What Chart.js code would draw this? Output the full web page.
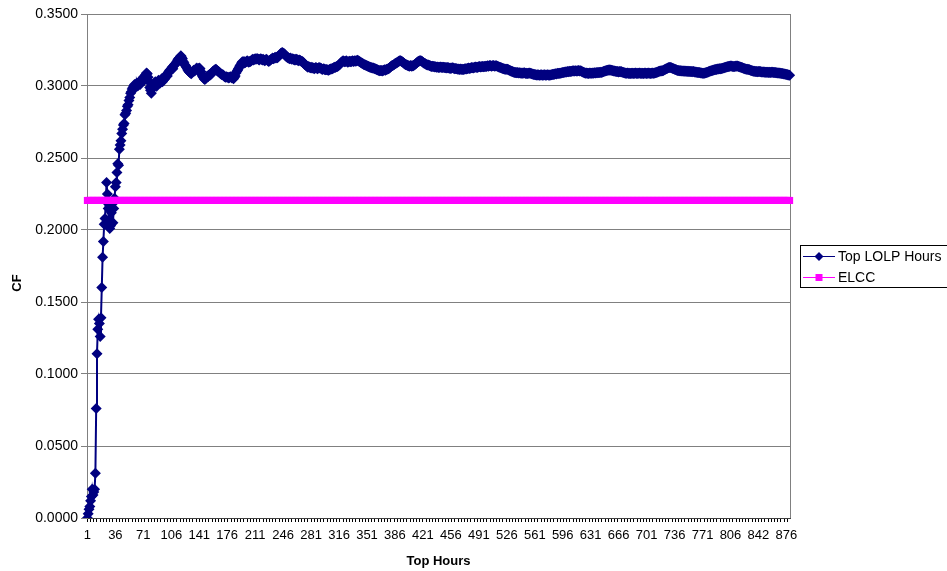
<!DOCTYPE html>
<html>
<head>
<meta charset="utf-8">
<script src="https://cdn.jsdelivr.net/npm/chart.js@4.4.0/dist/chart.umd.min.js"></script>
<style>
  body { margin: 0; background: #fff; }
  #wrap { width: 947px; height: 571px; position: relative; }
</style>
</head>
<body>
<div id="wrap"><canvas id="cfChart"></canvas></div>
<script>
// x axis: top hours 1..880, labelled every 35th category
const hours = Array.from({ length: 880 }, (_, i) => String(i + 1));
const tickLabels = ['1', '36', '71', '106', '141', '176', '211', '246', '281', '316', '351', '386', '421',
    '456', '491', '526', '561', '596', '631', '666', '701', '736', '771', '806', '842', '876'];

// CF of the top LOLP hours, in ten-thousandths
const topLolpCF = [
    0, 30, 60, 80, 120, 150, 200, 160, 180, 200,
    310, 760, 1140, 1310, 1380, 1350, 1260, 1390, 1600, 1810,
    1920, 2040, 2080, 2200, 2330, 2250, 2150, 2060, 2010, 2030,
    2120, 2180, 2050, 2150, 2220, 2300, 2330, 2400, 2460, 2450,
    2560, 2590, 2620, 2670, 2700, 2730, 2740, 2800, 2810, 2830,
    2860, 2870, 2900, 2920, 2950, 2960, 2980, 2990, 3000, 3010,
    2990, 3010, 3020, 3000, 3020, 3030, 3010, 3040, 3030, 3050,
    3060, 3040, 3070, 3080, 3090, 3085, 3060, 3030, 2990, 2970,
    2950, 2980, 3010, 3000, 3020, 3030, 3010, 3000, 3020, 3040,
    3030, 3020, 3040, 3050, 3030, 3040, 3060, 3050, 3070, 3080,
    3070, 3090, 3100, 3110, 3110, 3120, 3130, 3120, 3140, 3150,
    3150, 3160, 3170, 3180, 3190, 3195, 3200, 3210, 3200, 3190,
    3170, 3160, 3146, 3140, 3130, 3120, 3110, 3100, 3095, 3090,
    3085, 3095, 3100, 3110, 3105, 3110, 3120, 3125, 3115, 3120,
    3125, 3120, 3100, 3080, 3070, 3060, 3050, 3046, 3050, 3060,
    3070, 3065, 3075, 3080, 3076, 3085, 3090, 3100, 3105, 3110,
    3115, 3116, 3110, 3105, 3100, 3095, 3090, 3085, 3080, 3078,
    3076, 3070, 3065, 3060, 3065, 3060, 3060, 3055, 3060, 3065,
    3060, 3055, 3060, 3050, 3060, 3070, 3090, 3100, 3110, 3120,
    3130, 3140, 3150, 3160, 3169, 3165, 3170, 3160, 3165, 3170,
    3175, 3170, 3165, 3170, 3170, 3175, 3180, 3185, 3180, 3185,
    3190, 3185, 3190, 3190, 3185, 3180, 3185, 3190, 3185, 3180,
    3186, 3180, 3175, 3180, 3185, 3180, 3175, 3170, 3175, 3180,
    3185, 3190, 3195, 3190, 3195, 3200, 3195, 3200, 3197, 3205,
    3210, 3215, 3225, 3230, 3232, 3228, 3225, 3220, 3210, 3205,
    3200, 3197, 3195, 3190, 3195, 3190, 3185, 3190, 3185, 3180,
    3186, 3180, 3185, 3180, 3175, 3180, 3178, 3175, 3170, 3170,
    3165, 3160, 3150, 3145, 3140, 3136, 3130, 3135, 3130, 3128,
    3125, 3130, 3125, 3125, 3120, 3125, 3128, 3125, 3120, 3125,
    3128, 3125, 3125, 3120, 3115, 3118, 3120, 3115, 3112, 3115,
    3112, 3111, 3110, 3115, 3116, 3120, 3118, 3122, 3125, 3130,
    3128, 3132, 3135, 3136, 3140, 3145, 3150, 3160, 3165, 3170,
    3176, 3172, 3168, 3170, 3175, 3170, 3165, 3168, 3172, 3170,
    3168, 3172, 3175, 3170, 3173, 3176, 3172, 3175, 3178, 3176,
    3172, 3168, 3165, 3160, 3158, 3155, 3150, 3148, 3146, 3142,
    3140, 3138, 3135, 3132, 3130, 3128, 3126, 3125, 3125, 3122,
    3120, 3118, 3115, 3112, 3110, 3108, 3106, 3107, 3107, 3105,
    3108, 3110, 3112, 3110, 3114, 3116, 3118, 3120, 3125, 3130,
    3135, 3140, 3142, 3146, 3150, 3155, 3158, 3160, 3165, 3168,
    3172, 3175, 3176, 3172, 3168, 3165, 3160, 3155, 3150, 3148,
    3146, 3142, 3140, 3138, 3140, 3142, 3138, 3140, 3140, 3145,
    3150, 3155, 3160, 3165, 3170, 3172, 3175, 3176, 3174, 3170,
    3165, 3160, 3158, 3155, 3150, 3148, 3146, 3145, 3142, 3140,
    3138, 3136, 3137, 3136, 3135, 3132, 3134, 3130, 3132, 3130,
    3128, 3130, 3132, 3130, 3128, 3130, 3130, 3128, 3126, 3128,
    3125, 3128, 3126, 3124, 3125, 3122, 3125, 3126, 3125, 3122,
    3120, 3122, 3120, 3118, 3116, 3118, 3115, 3118, 3116, 3114,
    3116, 3115, 3118, 3120, 3118, 3120, 3122, 3125, 3122, 3124,
    3125, 3128, 3126, 3125, 3128, 3130, 3132, 3130, 3128, 3132,
    3134, 3135, 3132, 3134, 3136, 3135, 3134, 3136, 3138, 3136,
    3138, 3140, 3138, 3140, 3142, 3140, 3138, 3140, 3142, 3140,
    3138, 3140, 3140, 3138, 3135, 3132, 3130, 3128, 3126, 3124,
    3122, 3120, 3118, 3116, 3117, 3116, 3116, 3112, 3110, 3108,
    3105, 3102, 3100, 3098, 3095, 3094, 3093, 3092, 3093, 3092,
    3090, 3092, 3090, 3088, 3090, 3088, 3090, 3092, 3088, 3086,
    3088, 3086, 3088, 3090, 3088, 3088, 3085, 3083, 3082, 3080,
    3080, 3078, 3077, 3076, 3078, 3076, 3075, 3076, 3078, 3076,
    3075, 3077, 3078, 3076, 3075, 3076, 3078, 3077, 3075, 3076,
    3076, 3078, 3080, 3082, 3080, 3083, 3085, 3084, 3086, 3088,
    3087, 3088, 3088, 3090, 3092, 3094, 3093, 3096, 3098, 3097,
    3098, 3100, 3099, 3100, 3102, 3100, 3103, 3104, 3106, 3104,
    3105, 3106, 3105, 3104, 3106, 3107, 3105, 3106, 3104, 3100,
    3098, 3095, 3092, 3090, 3088, 3090, 3088, 3087, 3088, 3090,
    3088, 3089, 3090, 3088, 3090, 3092, 3091, 3092, 3093, 3092,
    3094, 3093, 3095, 3094, 3096, 3098, 3100, 3102, 3104, 3106,
    3108, 3110, 3110, 3112, 3110, 3111, 3110, 3108, 3106, 3105,
    3104, 3102, 3100, 3101, 3100, 3098, 3100, 3099, 3100, 3098,
    3096, 3094, 3092, 3090, 3088, 3088, 3090, 3088, 3087, 3088,
    3086, 3088, 3089, 3088, 3087, 3088, 3090, 3088, 3087, 3088,
    3088, 3090, 3088, 3086, 3088, 3089, 3087, 3088, 3090, 3088,
    3087, 3088, 3090, 3089, 3088, 3086, 3088, 3090, 3088, 3088,
    3090, 3092, 3094, 3096, 3098, 3100, 3102, 3104, 3105, 3106,
    3106, 3108, 3112, 3115, 3118, 3120, 3124, 3126, 3128, 3128,
    3128, 3126, 3124, 3122, 3120, 3116, 3114, 3112, 3110, 3108,
    3107, 3106, 3106, 3106, 3104, 3105, 3104, 3103, 3104, 3102,
    3102, 3103, 3101, 3102, 3100, 3101, 3100, 3099, 3100, 3100,
    3098, 3097, 3096, 3095, 3094, 3094, 3093, 3092, 3090, 3090,
    3089, 3088, 3088, 3090, 3092, 3094, 3096, 3098, 3100, 3102,
    3104, 3106, 3108, 3110, 3111, 3112, 3114, 3115, 3116, 3118,
    3118, 3120, 3119, 3120, 3122, 3124, 3125, 3126, 3128, 3130,
    3132, 3134, 3135, 3136, 3138, 3139, 3139, 3138, 3136, 3135,
    3136, 3138, 3139, 3138, 3139, 3136, 3134, 3132, 3130, 3128,
    3126, 3124, 3122, 3120, 3118, 3117, 3116, 3115, 3114, 3112,
    3110, 3108, 3106, 3104, 3103, 3102, 3101, 3100, 3100, 3099,
    3100, 3101, 3100, 3099, 3098, 3097, 3098, 3097, 3096, 3096,
    3095, 3096, 3095, 3094, 3095, 3094, 3096, 3095, 3095, 3094,
    3094, 3093, 3092, 3092, 3090, 3091, 3090, 3089, 3088, 3087,
    3086, 3085, 3084, 3083, 3082, 3080, 3079, 3077, 3076, 3075
];

// ELCC is one value, drawn across every hour
const elccCF = 0.2205;

const yTicks = [0, 0.05, 0.1, 0.15, 0.2, 0.25, 0.3, 0.35];

const NAVY = '#000080';
const MAGENTA = '#FF00FF';
const FONT = '"Liberation Sans", Arial, sans-serif';

// right border of the plot, the legend box and the rotated CF title
const excelBits = {
    id: 'excelBits',
    beforeDatasetsDraw(chart) {
        const { ctx, chartArea: a } = chart;
        ctx.save();
        ctx.strokeStyle = '#808080';
        ctx.lineWidth = 1;
        ctx.beginPath();
        ctx.moveTo(Math.round(a.right) + 0.5, a.top);
        ctx.lineTo(Math.round(a.right) + 0.5, a.bottom);
        ctx.stroke();
        ctx.restore();
    },
    afterDraw(chart) {
        const ctx = chart.ctx;
        ctx.save();
        // legend box
        ctx.strokeStyle = '#000';
        ctx.lineWidth = 1;
        ctx.strokeRect(800.5, 245.5, 160, 42);
        ctx.font = '14px ' + FONT;
        ctx.textBaseline = 'middle';
        ctx.fillStyle = '#000';
        // Top LOLP Hours
        ctx.strokeStyle = NAVY;
        ctx.beginPath();
        ctx.moveTo(803, 256.5);
        ctx.lineTo(835, 256.5);
        ctx.stroke();
        ctx.fillStyle = NAVY;
        ctx.beginPath();
        ctx.moveTo(819, 252);
        ctx.lineTo(823.5, 256.5);
        ctx.lineTo(819, 261);
        ctx.lineTo(814.5, 256.5);
        ctx.closePath();
        ctx.fill();
        ctx.fillStyle = '#000';
        ctx.fillText('Top LOLP Hours', 838, 257);
        // ELCC
        ctx.strokeStyle = MAGENTA;
        ctx.beginPath();
        ctx.moveTo(803, 277.5);
        ctx.lineTo(835, 277.5);
        ctx.stroke();
        ctx.fillStyle = MAGENTA;
        ctx.fillRect(815.5, 274, 7, 7);
        ctx.fillStyle = '#000';
        ctx.fillText('ELCC', 838, 278);
        // y title
        ctx.font = 'bold 13px ' + FONT;
        ctx.translate(17, 283);
        ctx.rotate(-Math.PI / 2);
        ctx.textAlign = 'center';
        ctx.fillText('CF', 0, 0);
        ctx.restore();
    }
};

const chart = new Chart(document.getElementById('cfChart'), {
    type: 'line',
    data: {
        labels: hours,
        datasets: [{
            label: 'Top LOLP Hours',
            data: topLolpCF.map(v => v / 10000),
            borderColor: NAVY,
            backgroundColor: NAVY,
            borderWidth: 2,
            pointStyle: 'rectRot',
            pointRadius: 5.5,
            pointBorderWidth: 0,
            pointBackgroundColor: NAVY,
            tension: 0,
            order: 1
        }, {
            label: 'ELCC',
            data: hours.map(() => elccCF),
            borderColor: MAGENTA,
            backgroundColor: MAGENTA,
            borderWidth: 1,
            pointStyle: 'rect',
            pointRadius: 5,
            pointBorderWidth: 0,
            pointBackgroundColor: MAGENTA,
            order: 0
        }]
    },
    options: {
        responsive: true,
        maintainAspectRatio: false,
        animation: false,
        layout: { padding: { left: 0, right: 157, top: 14, bottom: 0 } },
        plugins: {
            legend: { display: false },
            tooltip: { enabled: false }
        },
        scales: {
            x: {
                type: 'category',
                offset: true,
                afterFit: s => { s.height = 53; },
                grid: {
                    drawOnChartArea: false,
                    tickLength: 4,
                    offset: false,
                    color: c => (c.index % 4 === 0 ? '#000' : 'rgba(0,0,0,0)')
                },
                border: { color: '#404040', width: 1 },
                ticks: {
                    autoSkip: false,
                    maxRotation: 0,
                    minRotation: 0,
                    padding: 6,
                    color: '#000',
                    font: { family: FONT, size: 13 },
                    callback: (v, i) => (i % 35 === 0 ? tickLabels[i / 35] : '')
                },
                title: {
                    display: true,
                    text: 'Top Hours',
                    color: '#000',
                    font: { family: FONT, size: 13, weight: 'bold' },
                    padding: { top: 0, bottom: 2 }
                }
            },
            y: {
                min: 0,
                max: 0.35,
                afterFit: s => { s.width = 87; },
                afterBuildTicks: s => { s.ticks = yTicks.map(v => ({ value: v })); },
                grid: { color: '#808080', tickLength: 6 },
                border: { color: '#808080' },
                ticks: {
                    padding: 3,
                    color: '#000',
                    font: { family: FONT, size: 14 },
                    callback: v => v.toFixed(4)
                }
            }
        }
    },
    plugins: [excelBits]
});
</script>
</body>
</html>
